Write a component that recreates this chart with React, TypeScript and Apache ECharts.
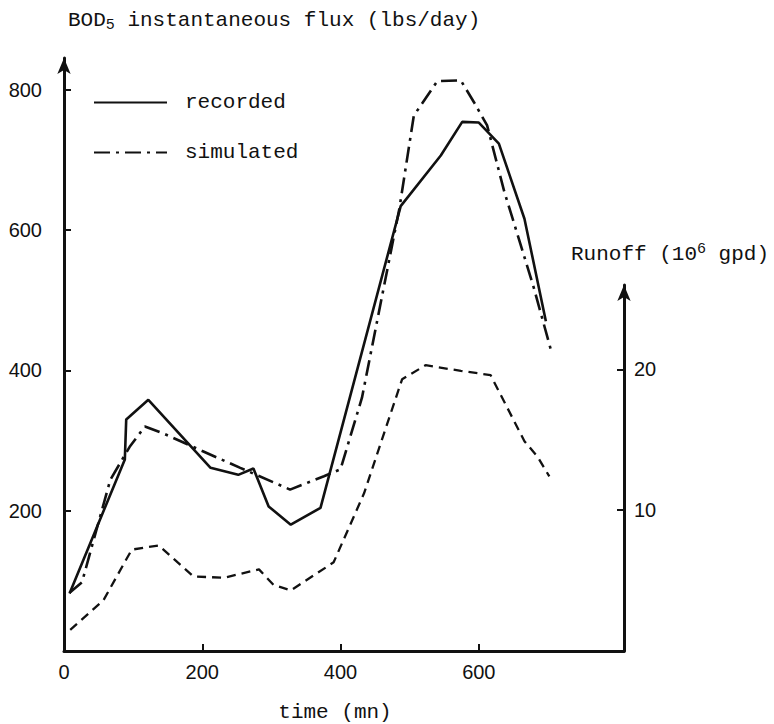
import React, { useEffect, useRef } from "react";
import * as echarts from "echarts";

// time (mn) / BOD5 flux (lbs/day) — recorded
const recordedTime = [8, 88, 90, 122, 212, 252, 274, 296, 328, 371, 487, 545, 576, 600, 629, 666, 697];
const recordedFlux = [82, 273, 330, 358, 261, 251, 260, 206, 180, 204, 634, 706, 754, 753, 723, 616, 470];

// simulated
const simulatedTime = [8, 26, 67, 95, 117, 146, 200, 255, 327, 376, 400, 431, 485, 506, 540, 574, 593, 612, 637, 658, 680, 704];
const simulatedFlux = [83, 98, 244, 291, 320, 309, 285, 261, 230, 249, 259, 361, 630, 763, 812, 813, 782, 749, 654, 587, 516, 430];

// runoff (10^6 gpd)
const runoffTime = [9, 57, 98, 137, 187, 231, 282, 303, 328, 390, 434, 489, 523, 574, 617, 666, 685, 702];
const runoffValue = [1.5, 3.6, 7.2, 7.5, 5.3, 5.2, 5.8, 4.7, 4.3, 6.3, 11.2, 19.3, 20.3, 19.9, 19.6, 14.9, 13.8, 12.4];

const xLabels = [0, 200, 400, 600];
const xTicks = [200, 400, 600];
const fluxTicks = [200, 400, 600, 800];
const runoffTicks = [10, 20];

const INK = "#111";
const MONO = "'Liberation Mono', 'DejaVu Sans Mono', monospace";
const SANS = "'Liberation Sans', Arial, sans-serif";

export default function App() {
  const ref = useRef<HTMLDivElement>(null);
  useEffect(() => {
    if (!ref.current) return;
    const chart = echarts.init(ref.current, null, { renderer: "svg" });
    const axisLine = { show: true, lineStyle: { color: INK, width: 3 } };
    const tick = (vals: number[]) => ({
      show: true,
      inside: true,
      length: 7,
      customValues: vals,
      lineStyle: { color: INK, width: 2 },
    });
    const label = (vals: number[], margin: number) => ({
      show: true,
      customValues: vals,
      color: INK,
      fontFamily: SANS,
      fontSize: 20,
      margin,
    });
    chart.setOption({
      animation: false,
      backgroundColor: "#fff",
      grid: [
        { left: 64, right: 150, top: 58, bottom: 73, outerBoundsMode: "none", containLabel: false },
        { left: 64, right: 150, top: 285, bottom: 73, outerBoundsMode: "none", containLabel: false },
      ],
      legend: {
        data: ["recorded", "simulated"],
        orient: "vertical",
        left: 93,
        top: 92,
        padding: 0,
        itemWidth: 73,
        itemHeight: 14,
        itemGap: 29,
        itemStyle: { opacity: 0 },
        textStyle: { fontFamily: MONO, fontSize: 21, color: INK, padding: [0, 0, 0, 13] },
      },
      xAxis: [
        {
          type: "value",
          gridIndex: 0,
          min: 0,
          max: 810,
          axisLine: { ...axisLine, onZero: false },
          axisTick: tick(xTicks),
          axisLabel: label(xLabels, 11),
          splitLine: { show: false },
          name: "time (mn)",
          nameLocation: "middle",
          nameGap: 51,
          nameTextStyle: { fontFamily: MONO, fontSize: 21, color: INK, padding: [0, 18, 0, 0] },
        },
        { type: "value", gridIndex: 1, min: 0, max: 810, show: false },
      ],
      yAxis: [
        {
          type: "value",
          gridIndex: 0,
          min: 0,
          max: 845,
          axisLine: { ...axisLine, onZero: false, symbol: ["none", "arrow"], symbolSize: [10, 16] },
          axisTick: tick(fluxTicks),
          axisLabel: label(fluxTicks, 22),
          splitLine: { show: false },
          name: "BOD{sub|5} instantaneous flux (lbs/day)",
          nameLocation: "end",
          nameGap: 27,
          nameTextStyle: {
            fontFamily: MONO,
            fontSize: 21,
            color: INK,
            align: "left",
            verticalAlign: "bottom",
            padding: [0, 0, 0, 4],
            rich: { sub: { fontFamily: MONO, fontSize: 15, lineHeight: 15, padding: [10, 0, 0, 0], color: INK } },
          },
        },
        {
          type: "value",
          gridIndex: 1,
          position: "right",
          min: 0,
          max: 26,
          axisLine: { ...axisLine, onZero: false, symbol: ["none", "arrow"], symbolSize: [10, 16] },
          axisTick: tick(runoffTicks),
          axisLabel: label(runoffTicks, 10),
          splitLine: { show: false },
          name: "Runoff (10{sup|6} gpd)",
          nameLocation: "end",
          nameGap: 20,
          nameTextStyle: {
            fontFamily: MONO,
            fontSize: 21,
            color: INK,
            align: "center",
            verticalAlign: "bottom",
            padding: [0, 0, 0, 92],
            rich: { sup: { fontFamily: MONO, fontSize: 15, lineHeight: 15, padding: [0, 0, 10, 0], color: INK } },
          },
        },
      ],
      series: [
        {
          name: "recorded",
          type: "line",
          xAxisIndex: 0,
          yAxisIndex: 0,
          data: recordedTime.map((t, i) => [t, recordedFlux[i]]),
          symbol: "none",
          itemStyle: { color: INK },
          lineStyle: { color: INK, width: 2.6 },
        },
        {
          name: "simulated",
          type: "line",
          xAxisIndex: 0,
          yAxisIndex: 0,
          data: simulatedTime.map((t, i) => [t, simulatedFlux[i]]),
          symbol: "none",
          itemStyle: { color: INK },
          lineStyle: { color: INK, width: 2.6, type: [16, 6, 3, 6] },
        },
        {
          name: "runoff",
          type: "line",
          xAxisIndex: 1,
          yAxisIndex: 1,
          data: runoffTime.map((t, i) => [t, runoffValue[i]]),
          symbol: "none",
          itemStyle: { color: INK },
          lineStyle: { color: INK, width: 2.3, type: [9, 6] },
        },
      ],
    });
    return () => chart.dispose();
  }, []);
  return (
    <div
      ref={ref}
      style={{ position: "fixed", left: 0, top: 0, width: 774, height: 724, background: "#fff" }}
    />
  );
}
